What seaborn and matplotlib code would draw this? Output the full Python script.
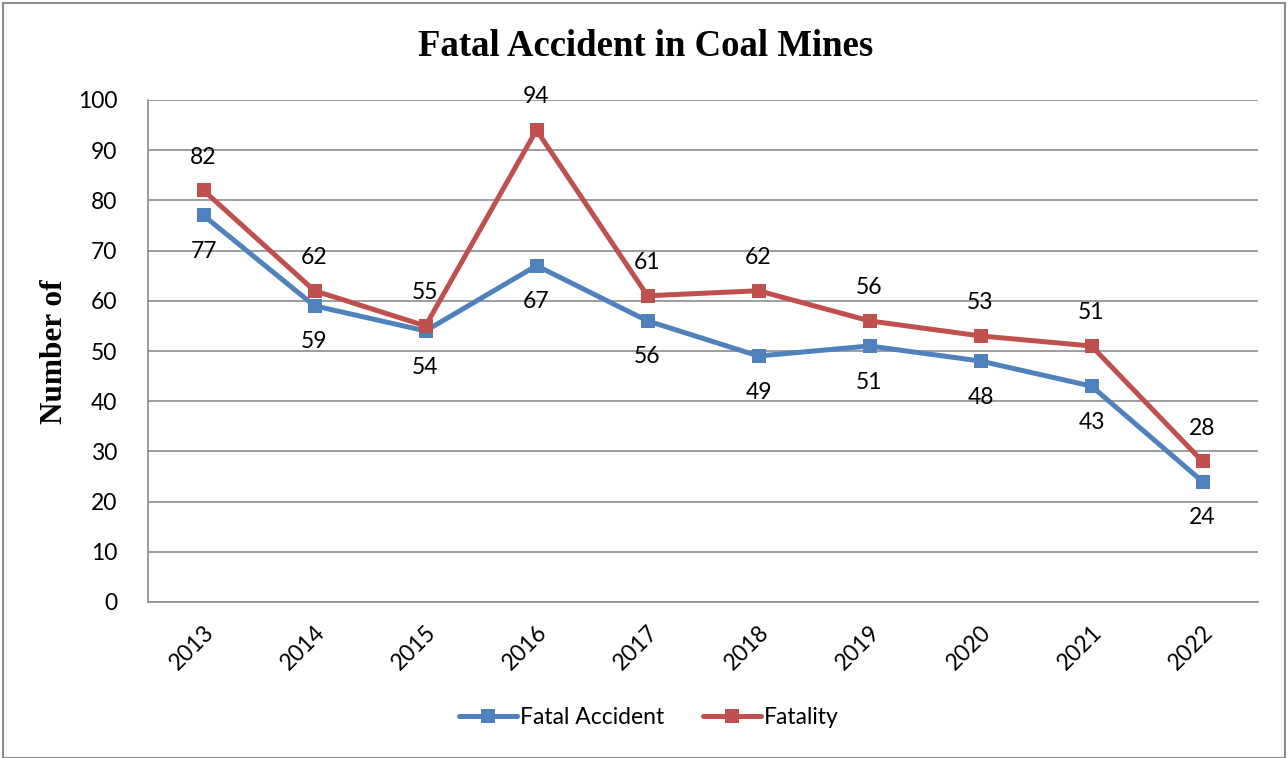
import matplotlib
matplotlib.use("Agg")
import matplotlib.pyplot as plt
import seaborn as sns
import pandas as pd
import numpy as np
from matplotlib.patches import Rectangle

years = ["2013", "2014", "2015", "2016", "2017", "2018", "2019", "2020", "2021", "2022"]
fatal_accident = [77, 59, 54, 67, 56, 49, 51, 48, 43, 24]
fatality = [82, 62, 55, 94, 61, 62, 56, 53, 51, 28]
y_ticks = [0, 10, 20, 30, 40, 50, 60, 70, 80, 90, 100]

sns.set_theme(style="white")
plt.rcParams['font.family'] = ['Lato', 'DejaVu Sans']
plt.rcParams['text.color'] = 'black'
plt.rcParams['xtick.color'] = 'black'
plt.rcParams['ytick.color'] = 'black'
plt.rcParams['axes.labelcolor'] = 'black'

W, H = 1288, 758
fig = plt.figure(figsize=(W / 100, H / 100), dpi=100)
ax = fig.add_axes([148 / W, 1 - 602 / H, (1258 - 148) / W, (602 - 100) / H])

df = pd.DataFrame({"idx": np.arange(len(years)), "Fatal Accident": fatal_accident, "Fatality": fatality})
blue = "#4F81BD"
red = "#C0504D"
sns.lineplot(data=df, x="idx", y="Fatal Accident", ax=ax, color=blue, lw=3.6,
             marker="s", markersize=10.5, markeredgewidth=0, label="Fatal Accident")
sns.lineplot(data=df, x="idx", y="Fatality", ax=ax, color=red, lw=3.6,
             marker="s", markersize=10.5, markeredgewidth=0, label="Fatality")

for i, (a, b) in enumerate(zip(fatal_accident, fatality)):
    ax.annotate(str(b), (i, b), xytext=(0, 24), textcoords="offset points",
                ha="center", va="center", fontsize=16.5, color="black")
    ax.annotate(str(a), (i, a), xytext=(0, -26), textcoords="offset points",
                ha="center", va="center", fontsize=16.5, color="black")

ax.set_xlim(-0.5, len(years) - 0.5)
ax.set_ylim(0, 100)
ax.set_yticks(y_ticks)
ax.set_yticklabels([str(t) for t in y_ticks], fontsize=16.5)
ax.set_xticks(np.arange(len(years)))
ax.set_xticklabels(years, fontsize=16.5, rotation=45, ha="right", rotation_mode="anchor")
ax.tick_params(axis="x", pad=14, length=0)
ax.tick_params(axis="y", pad=22, length=0)
ax.grid(axis="y", color="#8c8c8c", lw=1.2)
ax.set_axisbelow(True)
for s in ["top", "right"]:
    ax.spines[s].set_visible(False)
for s in ["left", "bottom"]:
    ax.spines[s].set_color("#8c8c8c")
    ax.spines[s].set_linewidth(1.2)
ax.set_xlabel("")
ax.set_ylabel("")
fig.text(55 / W, 1 - 352 / H, "Number of", rotation=90, ha="center", va="center",
         fontsize=22.5, fontweight="bold", family="Liberation Serif", color="black")

fig.text(646 / W, 1 - 47 / H, "Fatal Accident in Coal Mines", ha="center", va="center",
         fontsize=26.5, fontweight="bold", family="Liberation Serif", color="black")

leg = ax.legend(loc="center", bbox_to_anchor=(649 / W, 1 - 718 / H), bbox_transform=fig.transFigure,
                ncol=2, frameon=False, fontsize=16.5, handlelength=2.5, columnspacing=1.7, handletextpad=0.15)

fig.patches.append(Rectangle((3 / W, 0), (W - 6) / W, 1 - 3 / H, transform=fig.transFigure,
                             fill=False, edgecolor="#8c8c8c", lw=1.5))

fig.savefig("out.png", dpi=100)
